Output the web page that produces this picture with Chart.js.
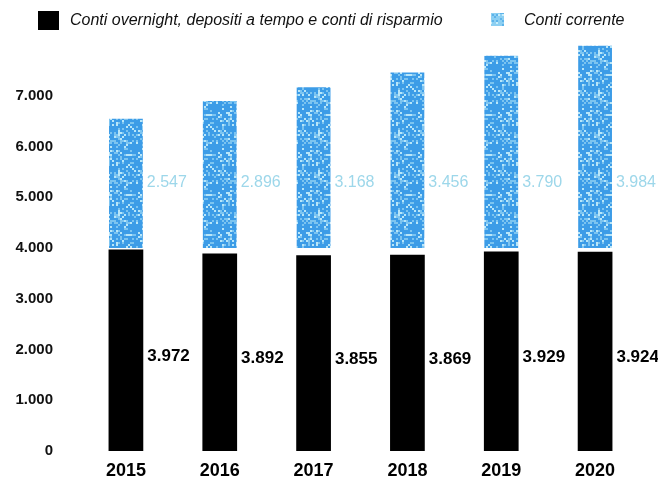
<!DOCTYPE html>
<html>
<head>
<meta charset="utf-8">
<script src="https://cdn.jsdelivr.net/npm/chart.js@4.4.1/dist/chart.umd.min.js"></script>
<style>
  html, body { margin: 0; padding: 0; background: #fff; }
  #wrap { width: 658px; height: 481px; }
</style>
</head>
<body>
<div id="wrap"><canvas id="grafico"></canvas></div>
<script>
// dati (milioni di conti)
var anni = ['2015', '2016', '2017', '2018', '2019', '2020'];
var contiOvernight = [3972, 3892, 3855, 3869, 3929, 3924];
var contiCorrente = [2547, 2896, 3168, 3456, 3790, 3984];
var baseCorrente = 4000; // la barra azzurra parte da 4.000
var tickY = [0, 1000, 2000, 3000, 4000, 5000, 6000, 7000];

var nomiSerie = ['Conti overnight, depositi a tempo e conti di risparmio', 'Conti corrente'];

var FONT = '"Liberation Sans", Arial, sans-serif';

function formatta(v) {
    return String(v).replace(/\B(?=(\d{3})+(?!\d))/g, '.');
}

// texture azzurra "maculata" (deterministica, niente random)
function creaTexture(base, chiaro, bianco) {
    var a = document.createElement('canvas');
    a.width = 40; a.height = 40;
    var g = a.getContext('2d');
    g.fillStyle = base;
    g.fillRect(0, 0, 40, 40);
    for (var i = 0; i < 20; i++) {
        for (var j = 0; j < 20; j++) {
            var h = Math.sin(i * 12.9898 + j * 78.233) * 43758.5453;
            h = h - Math.floor(h);
            if (h > 0.9) {
                g.fillStyle = bianco;
                g.fillRect(i * 2, j * 2, 2, 2);
            } else if (h > 0.7) {
                g.fillStyle = chiaro;
                g.fillRect(i * 2, j * 2, 2, 2);
            }
        }
    }
    var b = document.createElement('canvas');
    b.width = 40; b.height = 40;
    var gb = b.getContext('2d');
    gb.filter = 'blur(0.5px)';
    gb.drawImage(a, 0, 0);
    return gb.createPattern(b, 'repeat');
}
var texture = creaTexture('#3c9ce7', '#7cc4f0', '#b8e6f9');
var textureLegenda = creaTexture('#8ccff2', '#5db3ea', '#c8eefb');

// legenda disegnata a mano (quadratini di misure diverse)
var legenda = {
    id: 'legenda',
    afterDraw(chart) {
        var ctx = chart.ctx;
        ctx.save();
        ctx.textBaseline = 'middle';
        ctx.textAlign = 'left';
        ctx.font = 'italic 16px ' + FONT;
        ctx.fillStyle = '#000';
        ctx.fillRect(38, 11, 21, 19);
        ctx.fillStyle = '#111';
        ctx.fillText(nomiSerie[0], 70, 21);
        ctx.fillStyle = textureLegenda;
        ctx.fillRect(491, 13, 13, 13);
        ctx.fillStyle = '#111';
        ctx.fillText(nomiSerie[1], 524, 21);
        ctx.restore();
    }
};

var etichette = {
    id: 'etichette',
    afterDatasetsDraw(chart) {
        var ctx = chart.ctx;
        var yScale = chart.scales.y;
        ctx.save();
        ctx.textAlign = 'left';
        ctx.textBaseline = 'middle';
        chart.data.datasets.forEach((ds, di) => {
            var meta = chart.getDatasetMeta(di);
            meta.data.forEach((bar, i) => {
                var x = bar.x + bar.width / 2 + 4;
                var y;
                if (di === 0) {
                    ctx.font = 'bold 17px ' + FONT;
                    ctx.fillStyle = '#000';
                    y = (bar.y + bar.base) / 2 + 6;
                    ctx.fillText(formatta(contiOvernight[i]), x, y);
                } else {
                    // nel grafico originale le etichette azzurre sono tutte alla stessa altezza
                    ctx.font = '16px ' + FONT;
                    ctx.fillStyle = '#9dd7ea';
                    y = yScale.getPixelForValue(5290);
                    ctx.fillText(formatta(contiCorrente[i]), x, y);
                }
            });
        });
        ctx.restore();
    }
};

var ctx = document.getElementById('grafico');
var grafico = new Chart(ctx, {
    type: 'bar',
    data: {
        labels: anni,
        datasets: [{
            label: nomiSerie[0],
            data: contiOvernight,
            backgroundColor: '#000',
            grouped: false,
            barPercentage: 0.37,
            categoryPercentage: 1
        }, {
            label: nomiSerie[1],
            data: contiCorrente.map(v => [baseCorrente, baseCorrente + v]),
            backgroundColor: texture,
            grouped: false,
            barPercentage: 0.36,
            categoryPercentage: 1
        }]
    },
    options: {
        responsive: true,
        maintainAspectRatio: false,
        animation: false,
        layout: { padding: { left: 0, right: 16, top: 45, bottom: 2 } },
        plugins: {
            tooltip: { enabled: false },
            legend: { display: false }
        },
        scales: {
            x: {
                afterFit: (s) => { s.height = 28; },
                grid: { display: false },
                border: { display: false },
                ticks: {
                    color: '#000',
                    padding: 1,
                    font: { family: FONT, size: 18, weight: 'bold' }
                }
            },
            y: {
                min: 0,
                max: 8000,
                afterFit: (s) => { s.width = 79; },
                afterBuildTicks: (s) => { s.ticks = tickY.map(v => ({ value: v })); },
                grid: { display: false },
                border: { display: false },
                ticks: {
                    color: '#111',
                    padding: 18,
                    font: { family: FONT, size: 15, weight: 'bold' },
                    callback: (v) => formatta(v)
                }
            }
        }
    },
    plugins: [etichette, legenda]
});
</script>
</body>
</html>
